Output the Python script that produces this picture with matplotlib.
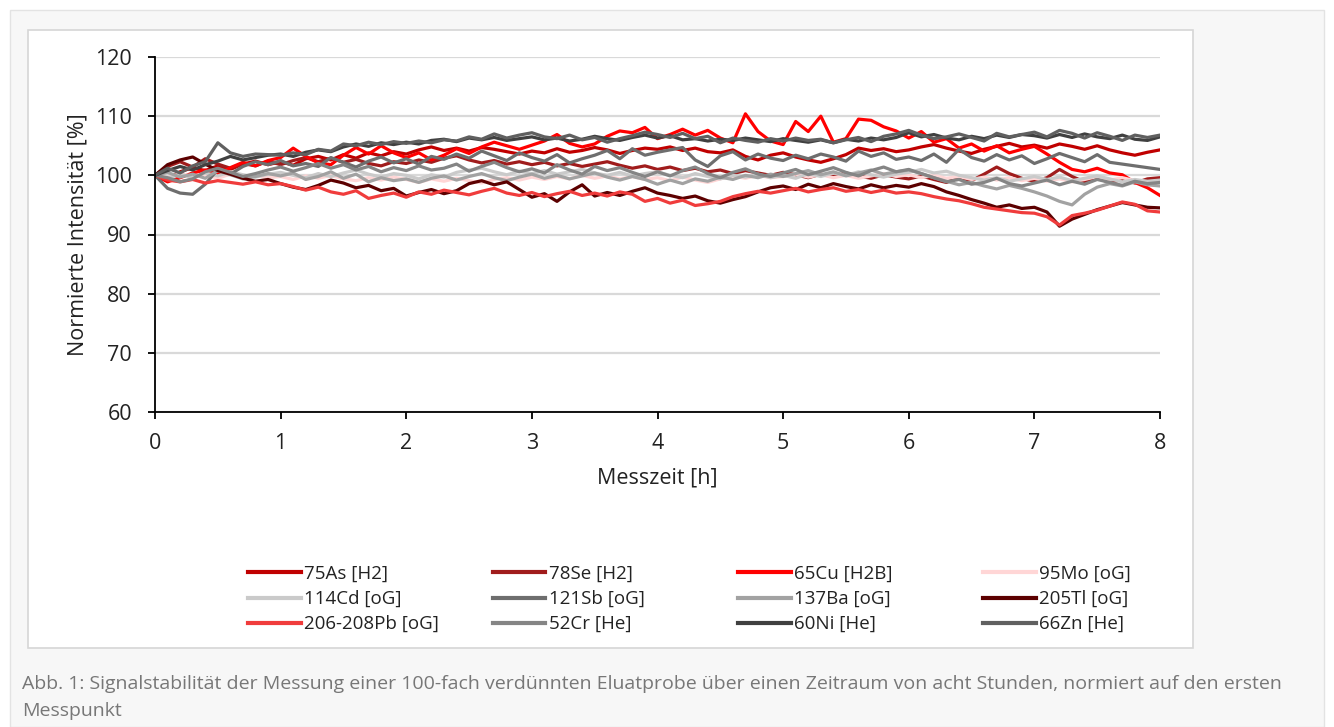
import numpy as np
import matplotlib
matplotlib.use("Agg")
import matplotlib.pyplot as plt
from matplotlib.patches import Rectangle

# ======================================================
# DATA (normalised intensity in %, one value every 0.1 h)
# ======================================================

time_h = np.round(np.arange(0, 8.01, 0.1), 1)

as75 = [100.0, 99.4, 100.6, 101.3, 100.8, 101.6, 101.0, 101.9, 102.4, 101.8,
        102.3, 101.7, 102.8, 103.2, 102.6, 103.5, 102.9, 103.8, 103.3, 104.0,
        103.6, 104.3, 104.8, 104.2, 104.6, 104.1, 104.7, 104.4, 104.0, 103.6,
        104.1, 103.8, 104.5, 103.9, 104.2, 104.7, 104.3, 103.7, 104.2, 104.6,
        104.4, 104.8, 104.2, 104.6, 104.0, 103.8, 104.3, 103.2, 102.6, 103.4,
        103.8, 103.1, 102.6, 102.2, 102.8, 103.5, 104.6, 104.2, 104.5, 104.0,
        104.3, 104.8, 105.2, 104.6, 104.1, 103.7, 104.4, 104.9, 105.4, 104.8,
        105.1, 104.6, 105.3, 104.9, 104.4, 105.0, 104.3, 103.8, 103.4, 103.9,
        104.3]

se78 = [100.0, 101.5, 102.3, 101.4, 102.8, 101.9, 101.2, 102.0, 101.6, 102.4,
        101.8, 102.5, 103.0, 102.3, 102.9, 102.2, 102.7, 102.0, 101.6, 102.3,
        102.0, 102.6, 102.2, 102.9, 103.3, 102.6, 102.1, 102.5, 101.9, 102.3,
        101.8, 102.2, 101.6, 102.0, 101.5, 101.9, 102.3, 101.7, 101.2, 101.6,
        101.0, 101.4, 100.8, 101.2, 100.6, 100.9, 100.3, 100.8, 100.4, 100.0,
        100.5, 100.1, 99.6, 100.2, 99.8, 100.4, 99.9, 99.5, 100.1, 99.7,
        99.4, 99.9, 99.3, 98.8, 99.6, 99.1, 100.2, 101.4, 100.3, 99.5,
        99.0, 99.6, 101.0, 99.8, 98.9, 99.5, 98.8, 99.3, 98.7, 99.4,
        99.6]

cu65 = [100.0, 98.9, 99.6, 100.4, 100.9, 100.2, 101.3, 102.2, 101.6, 102.5,
        103.0, 104.6, 103.2, 102.1, 101.8, 103.4, 104.7, 103.6, 105.0, 103.8,
        103.0, 103.8, 102.6, 103.4, 104.5, 103.7, 104.8, 105.6, 105.0, 104.4,
        105.1, 105.8, 106.9, 105.4, 104.8, 105.3, 106.6, 107.5, 107.2, 108.1,
        106.2, 106.9, 107.8, 106.8, 107.6, 106.3, 105.5, 110.4, 107.4, 105.8,
        105.2, 109.1, 107.4, 110.0, 105.6, 106.2, 109.5, 109.3, 108.2, 107.5,
        106.3, 107.4, 105.6, 106.2, 104.6, 105.3, 104.1, 105.0, 103.8, 104.4,
        104.9, 103.6, 102.2, 101.0, 100.6, 101.2, 100.4, 100.1, 98.8, 97.9,
        96.6]

mo95 = [100.0, 99.6, 100.3, 99.8, 100.1, 99.5, 100.2, 99.7, 100.0, 99.6,
        99.8, 99.3, 99.9, 99.5, 100.0, 99.4, 99.1, 99.6, 99.2, 99.7,
        99.3, 98.8, 99.4, 99.0, 99.5, 99.1, 98.7, 99.3, 99.6, 99.2,
        99.7, 99.3, 99.8, 99.4, 100.0, 99.5, 99.9, 99.4, 99.8, 99.3,
        99.6, 99.1, 99.7, 99.2, 98.8, 99.4, 99.9, 99.5, 100.0, 99.6,
        99.8, 100.2, 99.7, 100.1, 99.6, 100.0, 99.5, 99.9, 100.3, 99.8,
        100.1, 99.6, 100.0, 99.5, 99.8, 99.3, 99.7, 99.2, 99.6, 99.1,
        99.5, 99.0, 99.4, 98.9, 99.3, 99.8, 99.2, 99.6, 99.1, 98.8,
        99.0]

cd114 = [100.0, 99.5, 100.2, 99.6, 100.4, 99.9, 100.6, 100.1, 99.7, 100.2,
         100.5, 100.0, 99.6, 100.3, 99.8, 100.4, 100.9, 100.2, 99.7, 100.3,
         100.0, 99.4, 100.1, 99.7, 100.5, 100.9, 101.2, 100.6, 100.1, 100.7,
         100.3, 100.8, 100.2, 100.6, 101.0, 100.4, 100.0, 100.5, 99.9, 100.3,
         100.6, 100.0, 99.6, 100.3, 99.8, 99.4, 100.0, 99.7, 100.2, 99.6,
         100.0, 99.5, 100.3, 99.8, 100.4, 100.0, 100.6, 100.1, 99.7, 100.2,
         100.5, 101.0, 100.4, 100.7, 100.0, 99.6, 99.2, 99.6, 99.0, 99.4,
         99.8, 99.3, 99.7, 99.1, 99.5, 99.9, 99.4, 98.9, 99.3, 99.0,
         99.2]

sb121 = [100.0, 97.8, 97.0, 96.8, 98.5, 101.0, 100.2, 101.5, 102.3, 101.8,
         102.5, 101.6, 102.0, 101.5, 103.0, 102.2, 101.4, 102.4, 103.1, 102.1,
         102.8, 101.9, 103.2, 102.7, 103.6, 102.9, 104.1, 103.3, 102.5, 103.8,
         103.0, 102.4, 103.5, 102.1, 102.8, 103.4, 104.2, 102.8, 104.5, 103.4,
         103.9, 104.3, 104.7, 102.6, 101.5, 103.3, 104.0, 102.6, 103.6, 102.9,
         102.5, 103.4, 102.8, 103.6, 103.1, 102.4, 104.1, 103.2, 103.8, 102.7,
         103.1, 102.5, 103.6, 102.2, 104.4, 103.0, 102.4, 103.5, 102.6, 103.3,
         102.0, 102.8, 103.7, 103.0, 102.3, 103.5, 102.2, 101.9, 101.6, 101.3,
         101.0]

ba137 = [100.0, 100.5, 99.7, 100.2, 99.5, 100.8, 100.1, 99.4, 99.8, 100.3,
         99.9, 100.4, 99.3, 99.8, 100.6, 99.5, 100.2, 98.9, 99.6, 99.1,
         99.4, 98.8, 99.5, 99.9, 99.2, 99.8, 100.3, 99.6, 99.1, 99.7,
         100.2, 99.5, 100.0, 99.4, 99.9, 100.4, 99.7, 99.2, 99.8, 99.3,
         98.5, 99.2, 98.6, 99.4, 99.0, 99.7, 99.3, 100.0, 99.6, 100.2,
         99.8, 100.3, 100.8, 100.1, 100.6, 99.9, 100.4, 100.9, 100.2, 100.6,
         100.9, 100.3, 99.6, 99.0, 98.4, 98.8, 98.2, 97.7, 98.3, 97.8,
         97.2, 96.5, 95.6, 95.0, 96.8, 98.0, 98.6, 98.2, 98.9, 98.4,
         98.2]

tl205 = [100.0, 101.8, 102.6, 103.1, 101.9, 100.8, 100.2, 99.5, 99.0, 99.3,
         98.6, 98.0, 97.6, 98.3, 99.2, 98.7, 97.9, 98.3, 97.4, 97.8,
         96.5, 97.1, 97.6, 96.9, 97.4, 98.6, 99.1, 98.4, 98.9, 97.6,
         96.3, 96.9, 95.6, 97.2, 98.4, 96.5, 97.1, 96.6, 97.3, 97.9,
         97.0, 96.6, 96.1, 96.5, 95.7, 95.3, 95.9, 96.4, 97.2, 97.9,
         98.2, 97.6, 98.5, 97.9, 98.6, 98.1, 97.7, 98.4, 97.9, 98.3,
         98.0, 98.6, 98.1, 97.2, 96.6, 95.9, 95.3, 94.6, 95.0, 94.4,
         94.6, 93.8, 91.4, 92.6, 93.4, 94.2, 94.8, 95.4, 95.0, 94.6,
         94.5]

pb206 = [100.0, 99.2, 98.9, 99.3, 98.7, 99.1, 98.8, 98.5, 98.9, 98.4,
         98.6, 98.1, 97.5, 98.0, 97.2, 96.8, 97.4, 96.1, 96.6, 97.0,
         96.3, 97.2, 96.8, 97.5, 97.1, 96.7, 97.3, 97.8, 97.0, 96.6,
         97.1, 96.4, 96.9, 97.3, 96.6, 97.0, 96.5, 97.2, 96.8, 95.6,
         96.1, 95.3, 95.8, 94.9, 95.2, 95.6, 96.4, 96.9, 97.3, 97.0,
         97.4, 97.8, 97.2, 97.6, 97.9, 97.3, 97.6, 97.1, 97.5, 97.0,
         97.2, 96.9, 96.4, 96.0, 95.7, 95.2, 94.6, 94.3, 94.0, 93.7,
         93.6, 93.0, 91.6, 93.2, 93.6, 94.1, 94.8, 95.5, 95.1, 94.0,
         93.8]

cr52 = [100.0, 99.6, 98.9, 99.4, 100.6, 101.2, 100.5, 99.8, 100.3, 100.9,
        101.4, 100.7, 101.3, 102.0, 101.2, 101.8, 100.9, 101.5, 100.6, 101.3,
        100.8, 101.6, 100.9, 101.2, 101.9, 100.7, 101.5, 102.2, 101.3, 100.6,
        101.1, 100.4, 101.8, 100.9, 100.2, 101.5, 100.8, 101.3, 100.5, 99.8,
        100.6, 99.9, 100.8, 101.4, 100.3, 99.6, 100.5, 101.1, 100.2, 99.8,
        100.4, 101.0, 100.1, 100.7, 101.3, 100.5, 99.9, 100.8, 101.4, 100.6,
        101.0, 100.3, 99.6, 98.9, 99.3, 98.5, 98.8, 99.5, 98.6, 98.2,
        98.7, 99.2, 98.4, 99.0, 98.5, 99.3, 98.8, 98.3, 99.0, 98.6,
        98.8]

ni60 = [100.0, 100.8, 101.5, 100.9, 101.8, 102.4, 103.2, 102.6, 103.0, 103.4,
        103.6, 103.2, 103.9, 104.3, 104.0, 104.8, 105.3, 104.9, 105.5, 105.2,
        105.6, 105.3, 105.9, 106.1, 105.7, 106.3, 106.0, 106.4, 105.9, 106.2,
        106.5, 106.0, 106.3, 105.8, 106.1, 106.6, 106.2, 105.9, 106.4, 106.8,
        106.3, 106.7, 106.0, 106.2, 105.8, 106.1, 105.9, 106.3, 106.0, 105.7,
        106.2, 105.9, 105.6, 106.0, 105.5, 106.1, 105.8, 106.3, 106.0, 106.4,
        107.2, 106.5, 106.9, 106.3, 106.0, 106.6, 106.2, 106.8, 106.4, 106.9,
        106.7, 106.3, 106.9, 106.4, 107.0, 106.5, 106.2, 106.8, 106.1, 105.9,
        106.5]

zn66 = [100.0, 101.2, 100.4, 101.6, 102.3, 105.5, 103.8, 103.2, 103.6, 103.5,
        103.4, 103.8, 103.5, 104.4, 104.1, 105.3, 105.0, 105.6, 105.2, 105.7,
        105.4, 105.8, 105.5, 106.0, 105.8, 106.5, 106.1, 107.0, 106.3, 106.8,
        107.2, 106.5, 106.2, 106.8, 106.0, 106.4, 105.6, 106.2, 106.7, 107.3,
        106.9, 106.4, 107.1, 106.2, 106.6, 105.5, 106.3, 105.9, 105.6, 106.2,
        105.8, 106.3, 105.9, 106.1, 105.5, 106.0, 106.4, 105.7, 106.6, 107.0,
        107.6, 106.8, 106.2, 106.5, 107.0, 106.4, 105.8, 107.1, 106.5, 106.9,
        107.3, 106.5, 107.6, 107.1, 106.3, 107.2, 106.6, 105.9, 106.8, 106.4,
        106.8]

labels = ["75As [H2]", "78Se [H2]", "65Cu [H2B]", "95Mo [oG]",
          "114Cd [oG]", "121Sb [oG]", "137Ba [oG]", "205Tl [oG]",
          "206-208Pb [oG]", "52Cr [He]", "60Ni [He]", "66Zn [He]"]

series = [as75, se78, cu65, mo95, cd114, sb121, ba137, tl205,
          pb206, cr52, ni60, zn66]

colors = ["#c00000", "#a01c1c", "#ff0000", "#ffd6d6",
          "#cacaca", "#6e6e6e", "#a2a2a2", "#5c0000",
          "#f03c3c", "#858585", "#404040", "#606060"]

caption_1 = ("Abb. 1: Signalstabilität der Messung einer 100-fach verdünnten "
             "Eluatprobe über einen Zeitraum von acht Stunden, normiert auf den ersten")
caption_2 = "Messpunkt"

# ======================================================
# FIGURE
# ======================================================

W, H = 1334, 727
plt.rcParams["font.family"] = ["Open Sans", "DejaVu Sans"]

fig = plt.figure(figsize=(W / 100, H / 100), dpi=100)
fig.patch.set_facecolor("white")

# page box and white chart box
fig.add_artist(Rectangle((10 / W, 0), 1314 / W, 717 / H,
                         transform=fig.transFigure, facecolor="#f7f7f7",
                         edgecolor="#e3e3e3", lw=1, zorder=-10))
fig.add_artist(Rectangle((28 / W, 1 - 648 / H), 1165 / W, 618 / H,
                         transform=fig.transFigure, facecolor="white",
                         edgecolor="#d6d6d6", lw=1.2, zorder=-9))

ax = fig.add_axes([155 / W, 1 - 412 / H, 1005 / W, 355 / H])

lines = []
for y, c, lab in zip(series, colors, labels):
    ln, = ax.plot(time_h, y, color=c, lw=2.3, label=lab, solid_joinstyle="round")
    lines.append(ln)

ax.set_xlim(0, 8)
ax.set_ylim(60, 120)
ax.set_xticks(range(0, 9))
ax.set_yticks(range(60, 121, 10))

ax.yaxis.grid(True, color="#d9d9d9", lw=1.6)
ax.set_axisbelow(True)

for s in ["top", "right"]:
    ax.spines[s].set_visible(False)
ax.spines["left"].set_linewidth(1.3)
ax.spines["bottom"].set_linewidth(1.3)

ax.tick_params(axis="y", direction="out", length=5, width=1.3,
               labelsize=15.5, labelcolor="#222222", pad=11.5)
ax.tick_params(axis="x", direction="out", length=5, width=1.3,
               labelsize=15.5, labelcolor="#222222", pad=10)

ax.set_xlabel("Messzeit [h]", fontsize=15.5, color="#222222", labelpad=10)
ax.set_ylabel("Normierte Intensität [%]", fontsize=15.5, color="#222222", labelpad=5)

# ======================================================
# LEGEND (4 columns, row-wise order)
# ======================================================

col_x = [248, 493, 738, 983]
for k, x0 in enumerate(col_x):
    hs = [lines[k], lines[k + 4], lines[k + 8]]
    leg = fig.legend(handles=hs, loc="upper left",
                     bbox_to_anchor=(x0 / W, 1 - 565 / H),
                     frameon=False, fontsize=13.5, handlelength=2.8,
                     handletextpad=0.2, labelspacing=0.38, borderpad=0,
                     borderaxespad=0, labelcolor="#222222")
    for h in leg.legend_handles:
        h.set_linewidth(3)

# ======================================================
# CAPTION
# ======================================================

fig.text(22 / W, 1 - 684 / H, caption_1, fontsize=14, color="#777777",
         va="center", ha="left")
fig.text(22 / W, 1 - 711 / H, caption_2, fontsize=14, color="#777777",
         va="center", ha="left")

fig.savefig("out.png", dpi=100)
